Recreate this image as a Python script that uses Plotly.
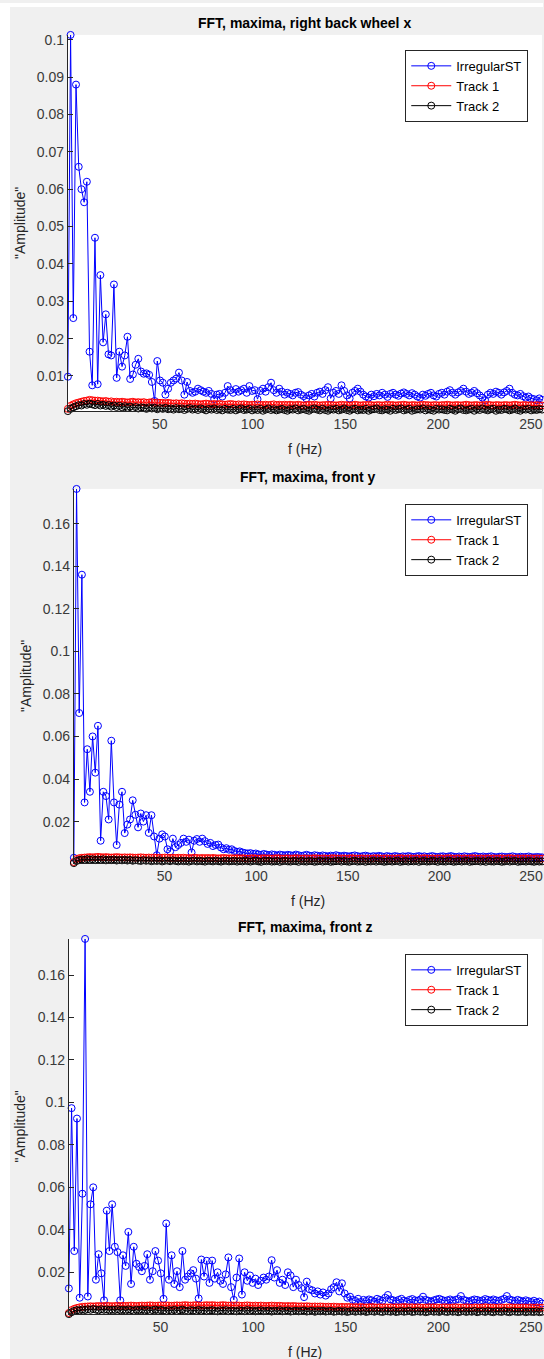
import numpy as np
import plotly.graph_objects as go

W, H = 544, 1359
UNIT = 1e-4  # amplitude lists below are written in units of 1e-4

# frequency bins, 0.5 .. 256 Hz
freq = np.linspace(0.5, 256, 176)

titles = ["FFT, maxima, right back wheel x", "FFT, maxima, front y", "FFT, maxima, front z"]
names = ["IrregularST", "Track 1", "Track 2"]
colors = ["#0000ff", "#ff0000", "#000000"]

x_ticks = [50, 100, 150, 200, 250]
y_ticks_1 = [0.01, 0.02, 0.03, 0.04, 0.05, 0.06, 0.07, 0.08, 0.09, 0.1]
y_labels_1 = ["0.01", "0.02", "0.03", "0.04", "0.05", "0.06", "0.07", "0.08", "0.09", "0.1"]
y_ticks_2 = [0.02, 0.04, 0.06, 0.08, 0.1, 0.12, 0.14, 0.16]
y_labels_2 = ["0.02", "0.04", "0.06", "0.08", "0.1", "0.12", "0.14", "0.16"]

# --- right back wheel x ---
wheel_irr = [
    98, 1013, 255, 880, 660, 600, 565, 620, 165, 75, 470, 78, 370, 190, 265, 158, 155, 345, 95, 165,
    125, 155, 205, 92, 104, 130, 146, 112, 106, 107, 103, 84, 33, 140, 88, 82, 50, 66, 82, 88,
    93, 109, 88, 50, 84, 60, 55, 58, 66, 62, 58, 55, 60, 52, 38, 50, 52, 45, 55, 73,
    62, 55, 65, 58, 62, 66, 55, 73, 60, 62, 38, 60, 66, 58, 70, 82, 62, 55, 66, 58,
    50, 55, 52, 48, 55, 57, 50, 46, 40, 48, 52, 45, 55, 58, 52, 62, 70, 40, 55, 60,
    52, 75, 60, 48, 40, 55, 60, 66, 58, 50, 45, 42, 50, 46, 52, 48, 55, 50, 44, 52,
    55, 50, 47, 53, 56, 52, 48, 54, 50, 45, 42, 50, 47, 52, 55, 48, 45, 52, 55, 50,
    58, 62, 55, 50, 56, 60, 66, 58, 52, 55, 60, 54, 48, 42, 35, 50, 55, 52, 58, 55,
    50, 56, 60, 66, 55, 50, 48, 52, 46, 42, 45, 40, 38, 35, 40, 36,
]
wheel_t1 = [
    12, 20, 24, 27, 29, 31, 33, 34, 36, 35, 34, 34, 33, 32, 33, 31, 32, 30, 31, 30,
    31, 30, 29, 30, 31, 29, 30, 29, 30, 28, 29, 30, 28, 29, 28, 28, 27, 28, 27, 26,
    27, 26, 27, 26, 25, 26, 25, 26, 25, 24, 25, 26, 25, 24, 25, 24, 25, 24, 23, 24,
    25, 24, 23, 24, 23, 24, 23, 22, 23, 23, 24, 23, 22, 23, 22, 23, 24, 22, 23, 22,
    23, 22, 23, 22, 22, 23, 22, 21, 22, 23, 22, 23, 22, 21, 22, 22, 23, 22, 22, 21,
    22, 23, 22, 22, 21, 22, 23, 22, 21, 22, 22, 23, 22, 21, 22, 22, 21, 22, 23, 22,
    22, 21, 22, 22, 23, 22, 21, 22, 22, 21, 22, 23, 22, 22, 21, 22, 22, 21, 22, 22,
    23, 22, 21, 22, 22, 21, 22, 23, 22, 21, 22, 22, 21, 22, 22, 23, 22, 21, 22, 22,
    21, 22, 22, 21, 22, 23, 22, 21, 22, 22, 21, 22, 21, 22, 21, 21,
]
wheel_t2 = [
    6, 12, 16, 19, 22, 21, 25, 23, 26, 24, 22, 25, 21, 23, 20, 22, 18, 21, 17, 20,
    16, 19, 15, 18, 14, 17, 13, 16, 15, 12, 16, 13, 15, 11, 14, 12, 15, 11, 13, 10,
    14, 11, 13, 9, 12, 14, 10, 12, 9, 13, 11, 8, 12, 10, 13, 9, 11, 8, 12, 10,
    9, 12, 8, 11, 13, 9, 10, 12, 8, 11, 9, 12, 7, 10, 13, 9, 11, 8, 10, 12,
    9, 7, 11, 10, 13, 8, 10, 12, 9, 7, 11, 13, 10, 8, 12, 9, 7, 11, 10, 12,
    8, 10, 13, 9, 7, 11, 12, 8, 10, 9, 12, 7, 10, 11, 13, 9, 8, 11, 10, 7,
    12, 9, 11, 13, 8, 10, 12, 7, 9, 11, 10, 13, 8, 11, 9, 7, 12, 10, 11, 9,
    8, 12, 10, 7, 11, 13, 9, 8, 10, 12, 7, 11, 9, 13, 10, 8, 11, 12, 7, 10,
    9, 12, 11, 8, 10, 13, 9, 7, 11, 10, 12, 8, 10, 9, 11, 10,
]

# --- front y ---
fronty_irr = [
    30, 1763, 710, 1360, 290, 540, 340, 600, 430, 650, 110, 340, 320, 210, 580, 290, 90, 280, 340, 146,
    186, 210, 300, 232, 173, 238, 200, 230, 147, 230, 130, 42, 120, 140, 130, 70, 60, 120, 80, 90,
    100, 120, 105, 115, 55, 110, 118, 105, 120, 108, 95, 100, 85, 90, 92, 78, 70, 75, 68, 70,
    62, 58, 60, 55, 52, 50, 52, 48, 50, 46, 44, 48, 45, 42, 46, 44, 40, 45, 43, 41,
    44, 42, 40, 45, 42, 38, 41, 44, 40, 38, 42, 40, 37, 41, 39, 36, 40, 38, 42, 39,
    37, 40, 38, 36, 39, 41, 38, 35, 38, 40, 37, 35, 38, 36, 39, 37, 34, 38, 36, 35,
    38, 36, 34, 37, 35, 38, 36, 33, 36, 38, 35, 37, 34, 36, 38, 35, 33, 36, 37, 34,
    36, 38, 35, 33, 36, 34, 37, 35, 33, 36, 38, 35, 34, 36, 33, 35, 37, 34, 32, 35,
    36, 34, 33, 35, 37, 34, 32, 35, 33, 34, 36, 33, 32, 34, 33, 32,
]
fronty_t1 = [
    10, 24, 28, 30, 31, 32, 33, 32, 33, 34, 33, 32, 33, 32, 31, 32, 33, 32, 31, 32,
    31, 32, 31, 30, 31, 32, 31, 30, 31, 30, 31, 30, 29, 30, 31, 30, 29, 30, 29, 30,
    29, 30, 29, 28, 29, 30, 29, 28, 29, 28, 29, 28, 29, 28, 27, 28, 29, 28, 27, 28,
    27, 28, 27, 28, 27, 26, 27, 28, 27, 26, 27, 28, 27, 27, 26, 27, 28, 27, 26, 27,
    27, 26, 27, 28, 27, 26, 27, 27, 26, 27, 28, 27, 26, 27, 27, 26, 27, 28, 27, 26,
    27, 27, 26, 27, 28, 27, 26, 27, 27, 26, 27, 26, 27, 28, 27, 26, 27, 27, 26, 27,
    26, 27, 28, 27, 26, 27, 27, 26, 27, 26, 27, 28, 27, 26, 27, 26, 27, 27, 26, 27,
    28, 27, 26, 27, 27, 26, 27, 26, 27, 28, 27, 26, 27, 26, 27, 27, 26, 27, 26, 27,
    27, 26, 27, 28, 27, 26, 27, 26, 27, 27, 26, 27, 26, 27, 26, 26,
]
fronty_t2 = [
    5, 15, 19, 22, 20, 24, 21, 23, 19, 22, 20, 23, 18, 21, 19, 22, 17, 20, 18, 21,
    17, 20, 16, 19, 17, 15, 19, 16, 18, 14, 17, 15, 18, 13, 16, 17, 14, 18, 15, 13,
    17, 14, 16, 12, 15, 17, 13, 16, 14, 12, 16, 15, 13, 17, 14, 12, 15, 16, 13, 14,
    16, 12, 15, 13, 17, 14, 12, 15, 16, 13, 11, 15, 14, 16, 12, 13, 15, 11, 14, 16,
    13, 12, 15, 14, 11, 16, 13, 12, 15, 14, 11, 13, 16, 12, 14, 15, 11, 13, 14, 16,
    12, 15, 13, 11, 14, 16, 12, 13, 15, 11, 14, 13, 16, 12, 15, 14, 11, 13, 15, 12,
    14, 16, 11, 13, 15, 12, 14, 13, 16, 11, 14, 15, 12, 13, 16, 14, 11, 15, 13, 12,
    16, 14, 11, 13, 15, 12, 14, 16, 11, 13, 14, 15, 12, 14, 11, 16, 13, 12, 15, 14,
    11, 13, 16, 12, 14, 15, 11, 13, 14, 12, 15, 13, 11, 14, 12, 13,
]

# --- front z ---
frontz_irr = [
    124, 973, 300, 924, 80, 570, 1770, 86, 520, 600, 165, 285, 195, 68, 490, 300, 520, 320, 295, 68,
    280, 230, 390, 145, 320, 240, 225, 205, 230, 285, 165, 205, 300, 255, 195, 75, 430, 165, 280, 145,
    205, 130, 300, 165, 180, 195, 210, 170, 77, 260, 180, 254, 150, 255, 170, 200, 160, 145, 190, 270,
    130, 70, 175, 265, 95, 200, 160, 185, 150, 170, 140, 160, 175, 165, 180, 257, 175, 210, 150, 165,
    140, 200, 185, 130, 165, 140, 125, 83, 156, 120, 115, 100, 110, 95, 105, 90, 100, 120, 130, 153,
    110, 148, 100, 80, 85, 70, 65, 75, 60, 70, 65, 72, 68, 62, 75, 70, 66, 80, 93, 72,
    68, 64, 70, 75, 66, 62, 70, 74, 68, 65, 72, 85, 70, 66, 62, 68, 72, 75, 70, 65,
    68, 72, 66, 70, 74, 88, 70, 66, 62, 68, 72, 70, 65, 68, 74, 70, 66, 72, 68, 65,
    70, 75, 88, 72, 68, 65, 70, 66, 62, 68, 64, 60, 66, 58, 62, 53,
]
frontz_t1 = [
    8, 22, 28, 32, 35, 37, 38, 39, 40, 39, 40, 41, 40, 41, 42, 41, 40, 41, 42, 41,
    42, 41, 42, 43, 42, 41, 42, 43, 42, 43, 44, 43, 42, 43, 44, 43, 44, 43, 42, 43,
    44, 43, 44, 45, 44, 43, 44, 45, 44, 43, 44, 45, 44, 45, 44, 43, 44, 45, 44, 43,
    44, 43, 44, 43, 42, 43, 44, 43, 42, 43, 42, 43, 42, 41, 42, 43, 42, 41, 42, 41,
    40, 41, 40, 41, 40, 39, 40, 39, 40, 39, 38, 39, 38, 39, 38, 37, 38, 37, 38, 37,
    36, 37, 36, 37, 36, 35, 36, 35, 36, 35, 34, 35, 36, 35, 34, 35, 34, 35, 34, 35,
    34, 35, 34, 35, 36, 35, 34, 35, 34, 35, 34, 33, 34, 35, 34, 35, 34, 33, 34, 35,
    34, 33, 34, 35, 34, 33, 34, 35, 34, 33, 34, 34, 33, 34, 35, 34, 33, 34, 33, 34,
    34, 33, 34, 35, 34, 33, 34, 33, 34, 34, 33, 34, 33, 34, 33, 33,
]
frontz_t2 = [
    3, 12, 18, 22, 20, 25, 22, 26, 23, 27, 24, 21, 26, 23, 25, 21, 24, 22, 26, 21,
    24, 20, 25, 22, 19, 24, 21, 25, 20, 23, 18, 22, 24, 19, 23, 20, 17, 22, 19, 23,
    18, 21, 24, 19, 17, 22, 20, 18, 23, 19, 21, 17, 20, 22, 18, 16, 21, 19, 22, 17,
    20, 18, 16, 21, 19, 17, 22, 18, 20, 16, 19, 21, 17, 18, 20, 15, 19, 17, 21, 16,
    18, 20, 15, 17, 19, 16, 18, 20, 15, 17, 19, 14, 18, 16, 19, 15, 17, 18, 14, 16,
    18, 15, 17, 13, 16, 18, 14, 17, 15, 19, 13, 16, 17, 14, 18, 15, 13, 17, 16, 14,
    18, 13, 15, 17, 14, 16, 18, 13, 15, 17, 14, 16, 12, 15, 17, 14, 16, 13, 18, 15,
    13, 17, 14, 16, 12, 15, 17, 13, 16, 14, 18, 12, 15, 16, 13, 17, 14, 12, 16, 15,
    13, 17, 14, 12, 16, 15, 13, 14, 16, 12, 15, 14, 13, 16, 12, 14,
]

panels = [
    (wheel_irr, wheel_t1, wheel_t2),
    (fronty_irr, fronty_t1, fronty_t2),
    (frontz_irr, frontz_t1, frontz_t2),
]
y_ticks = [(y_ticks_1, y_labels_1), (y_ticks_2, y_labels_2), (y_ticks_2, y_labels_2)]

# pixel boxes of the three axes: left, right, top, bottom
boxes = [(68, 543, 32, 409), (74, 543, 487, 862), (69, 543, 938, 1314)]
ylabel_x = [20, 26, 20]

FONT = "Arial, Liberation Sans, Helvetica, sans-serif"
AX = "#262626"


def px(x):
    return x / W


def py(y):
    return 1 - y / H


fig = go.Figure()
annotations = []

for i, series in enumerate(panels):
    n = "" if i == 0 else str(i + 1)
    leg = "legend" if i == 0 else "legend" + str(i + 1)
    left, right, top, bottom = boxes[i]

    vals = []
    for name, color, s in zip(names, colors, series):
        y = np.array(s) * UNIT
        vals.extend(y)
        fig.add_trace(go.Scatter(
            x=freq, y=y, name=name, mode="lines+markers",
            line=dict(color=color, width=1),
            marker=dict(symbol="circle-open", size=7, color=color, line=dict(width=1)),
            xaxis="x" + n, yaxis="y" + n, legend=leg, cliponaxis=False,
        ))

    tv, tt = y_ticks[i]
    common = dict(showline=True, linecolor=AX, linewidth=1, ticks="inside", ticklen=5,
                  tickcolor=AX, showgrid=False, zeroline=False, mirror=False,
                  tickfont=dict(family=FONT, size=14, color="#3a3a3a"))
    fig.layout["xaxis" + n] = dict(domain=[px(left), px(right)], anchor="y" + n,
                                   range=[freq[0], freq[-1]], tickvals=x_ticks, **common)
    fig.layout["yaxis" + n] = dict(domain=[py(bottom), py(top)], anchor="x" + n,
                                   range=[min(vals), max(vals)], tickvals=tv, ticktext=tt, **common)
    fig.layout[leg] = dict(x=px(406), y=py(top + 15), xanchor="left", yanchor="top",
                           bgcolor="white", bordercolor=AX, borderwidth=1, itemwidth=40,
                           tracegroupgap=0, font=dict(family=FONT, size=13, color="#000000"))

    cx = px((left + right) / 2)
    annotations.append(dict(text="<b>" + titles[i] + "</b>", x=cx, y=py(top - 12),
                            xanchor="center", yanchor="middle",
                            xref="paper", yref="paper", showarrow=False,
                            font=dict(family=FONT, size=14, color="#000000")))
    annotations.append(dict(text="f (Hz)", x=cx, y=py(bottom + 38),
                            xanchor="center", yanchor="middle",
                            xref="paper", yref="paper", showarrow=False,
                            font=dict(family=FONT, size=14, color=AX)))
    annotations.append(dict(text='"Amplitude"', x=px(ylabel_x[i]), y=py((top + bottom) / 2),
                            xanchor="center", yanchor="middle",
                            xref="paper", yref="paper", showarrow=False, textangle=-90,
                            font=dict(family=FONT, size=14, color=AX)))

fig.update_layout(
    width=W, height=H,
    margin=dict(l=0, r=0, t=0, b=0),
    paper_bgcolor="#f0f0f0", plot_bgcolor="white",
    annotations=annotations,
    shapes=[
        dict(type="rect", xref="paper", yref="paper", x0=0, x1=px(10), y0=0, y1=1,
             fillcolor="white", line=dict(width=0), layer="below"),
        dict(type="rect", xref="paper", yref="paper", x0=0, x1=1, y0=py(4), y1=1,
             fillcolor="white", line=dict(width=0), layer="below"),
    ],
)

# the page's default body margin would push the figure off the window
fig.write_html("out.html", config={"displayModeBar": False},
               post_script="document.body.style.margin='0';document.body.style.overflow='hidden';")
